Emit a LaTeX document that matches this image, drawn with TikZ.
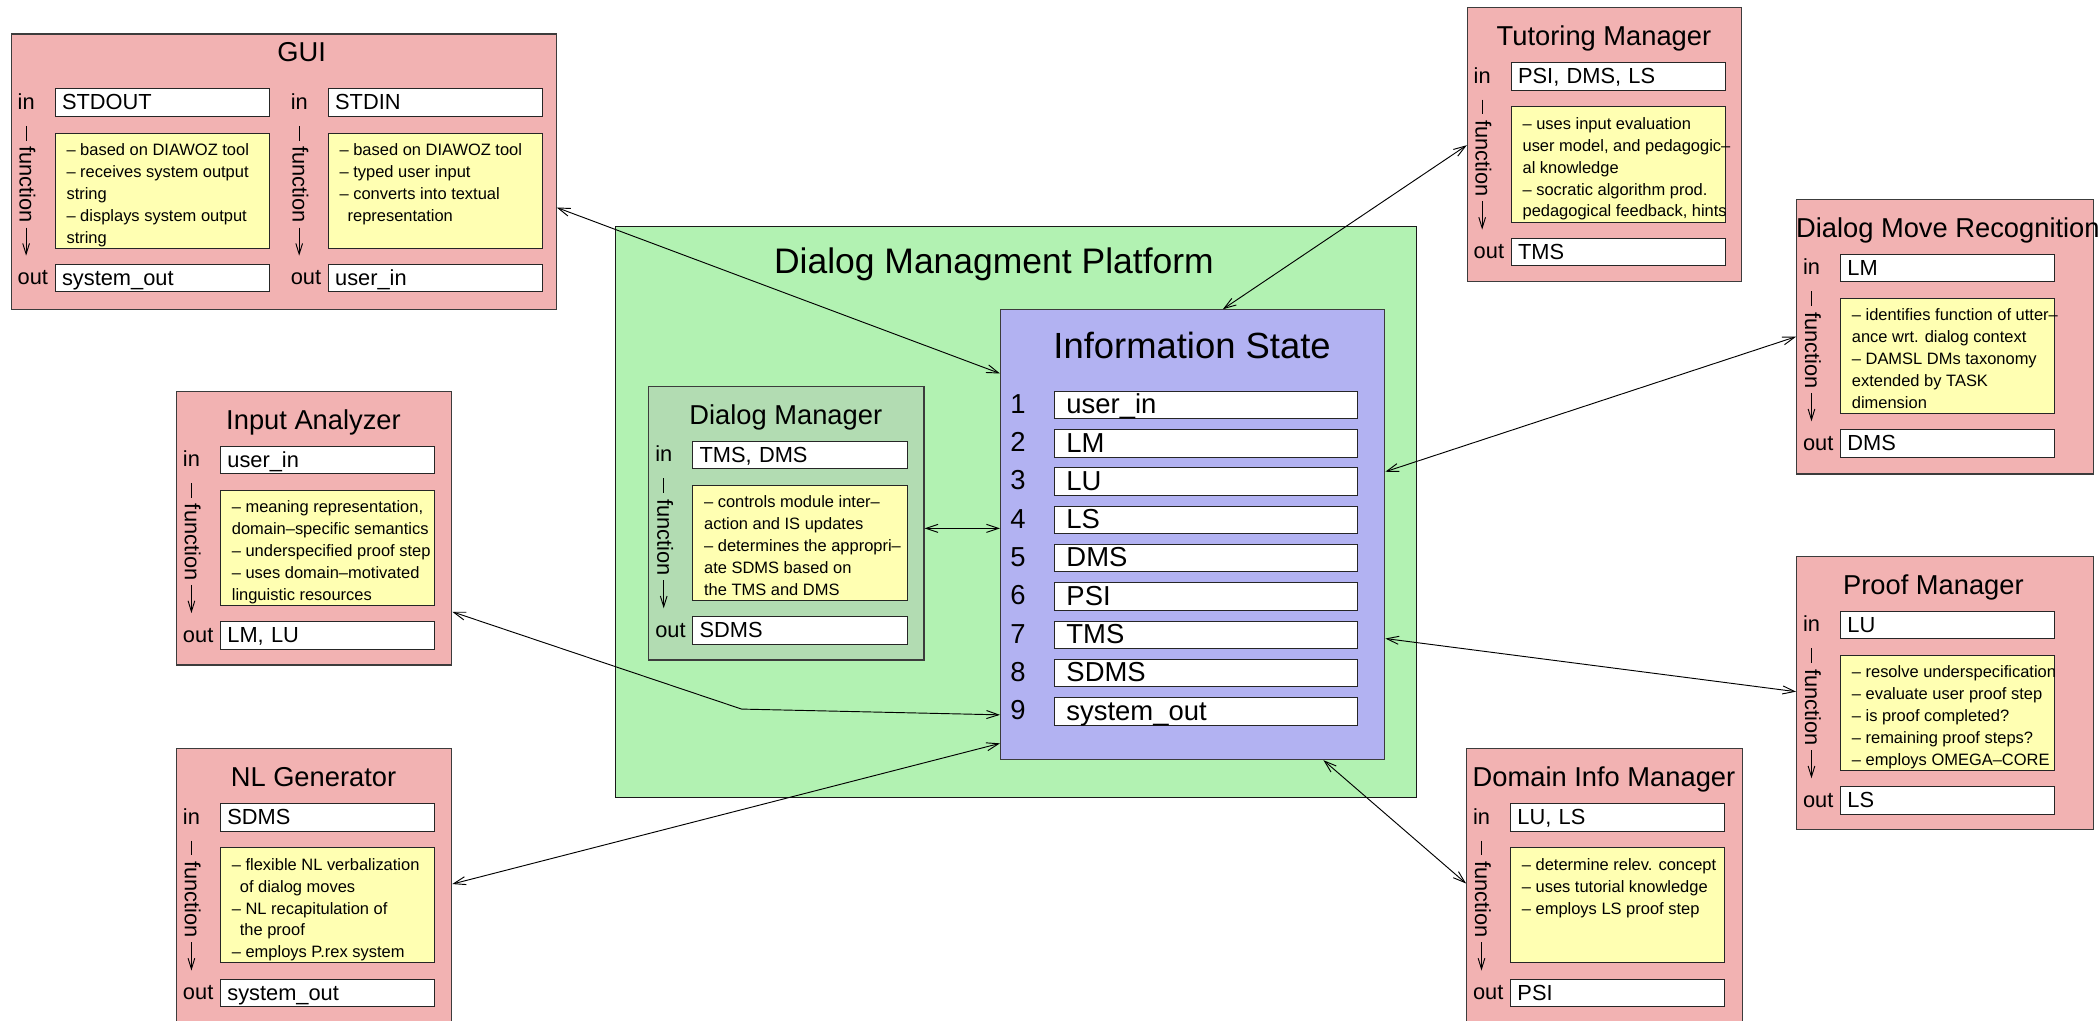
\documentclass[tikz,border=0pt]{standalone}
\usepackage{fontspec}
\setmainfont{Liberation Sans}
\usetikzlibrary{arrows.meta,calc}
\definecolor{pinkbox}{RGB}{242,178,178}
\definecolor{platgreen}{RGB}{178,242,178}
\definecolor{dmgreen}{RGB}{178,220,178}
\definecolor{ispurple}{RGB}{178,178,242}
\definecolor{noteyellow}{RGB}{255,255,178}
\definecolor{edgegray}{RGB}{60,60,60}

\newcommand\mfTitle{\fontsize{20.4}{24}\selectfont}
\newcommand\mfLabel{\fontsize{16.3}{19}\selectfont}
\newcommand\mfNote{\fontsize{12.3}{16.4}\selectfont}
\newcommand\mfIS{\fontsize{20.5}{24}\selectfont}
\newcommand\mfISTitle{\fontsize{27.2}{32}\selectfont}
\newcommand\mfPlat{\fontsize{26.5}{32}\selectfont}

\tikzset{
 modbox/.style={draw=edgegray, line width=0.85pt, fill=pinkbox, anchor=north west, inner sep=0pt},
 inbox/.style={draw=black!85, fill=white, line width=0.7pt, anchor=north west, inner ysep=0pt, inner xsep=5pt, text width=150pt, align=left, text height=15.7pt, text depth=4.8pt, minimum height=20.5pt, font=\mfLabel},
 notebox/.style={draw=black!85, fill=noteyellow, line width=0.7pt, anchor=north west, minimum width=160pt, minimum height=86pt, inner sep=0pt},
 notetext/.style={anchor=north west, inner sep=0pt, align=left, font=\mfNote},
 lbl/.style={anchor=base west, inner sep=0pt, font=\mfLabel},
 ttl/.style={anchor=base, inner sep=0pt, font=\mfTitle},
 isrow/.style={draw=black!85, fill=white, line width=0.7pt, anchor=north west, inner ysep=0pt, inner xsep=8.9pt, text width=208.4pt, align=left, text height=16.8pt, text depth=3.7pt, minimum height=20.5pt, font=\mfIS},
 conn/.style={line width=0.7pt, {Straight Barb[length=9pt,width=6pt]}-{Straight Barb[length=9pt,width=6pt]}},
 fnarrow/.style={line width=0.7pt, -{Straight Barb[length=8pt,width=5pt]}},
}

% frame: [fill] name X Y W H titlex titlebase title
\newcommand\modframe[9][pinkbox]{%
 \node[modbox, fill=#1, minimum width=#5pt, minimum height=#6pt] (#2) at (#3,#4) {};
 \node[ttl] (#2-t) at ({#3+#7},{#4+#8}) {#9};
}
% column: name X Y in out note
\newcommand\modcol[6]{%
 \node[lbl] (#1-il) at ({#2+5},{#3+56.7}) {in};
 \node[inbox] (#1-in) at ({#2+33},{#3+41}) {#4};
 \node[notebox] (#1-nb) at ({#2+33},{#3+74}) {};
 \node[notetext] (#1-nt) at ({#2+41.5},{#3+79.3}) {\strut#6};
 \draw[line width=0.7pt] ({#2+11.5},{#3+69}) -- ({#2+11.5},{#3+80});
 \node[rotate=-90, inner sep=0pt, font=\mfLabel] (#1-fl) at ({#2+12.5},{#3+113}) {function};
 \draw[fnarrow] ({#2+11.5},{#3+145}) -- ({#2+11.5},{#3+166});
 \node[lbl] (#1-ol) at ({#2+5},{#3+187.7}) {out};
 \node[inbox] (#1-out) at ({#2+33},{#3+172}) {#5};
}

\begin{document}
\begin{tikzpicture}[x=1pt,y=-1pt]
\useasboundingbox (0,0) rectangle (1568,762);

% platform
\node[draw=black!90, line width=0.85pt, fill=platgreen, anchor=north west, minimum width=598.5pt, minimum height=426pt, inner sep=0pt] (plat) at (459.5,169) {};
\node[anchor=base, inner sep=0pt, font=\mfPlat] (plat-t) at (742.5,204) {Dialog Managment Platform};

% dialog manager
\modframe[dmgreen]{dm}{484.3}{288.4}{205.5}{204.2}{102.7}{28.6}{Dialog Manager}
\modcol{dm}{484.3}{288.4}{TMS, DMS}{SDMS}{– controls module inter–\\action and IS updates\\– determines the appropri–\\ate SDMS based on\\the TMS and DMS}

% information state
\node[draw=edgegray, line width=0.85pt, fill=ispurple, anchor=north west, minimum width=287pt, minimum height=336pt, inner sep=0pt] (is) at (747,231) {};
\node[anchor=base, inner sep=0pt, font=\mfISTitle] (is-t) at (890.5,267.7) {Information State};
\foreach \k/\txt in {1/user\_in,2/LM,3/LU,4/LS,5/DMS,6/PSI,7/TMS,8/SDMS,9/system\_out}{
 \node[isrow] (is-\k) at (787.4,{292+28.6*(\k-1)}) {\txt};
 \node[anchor=base, inner sep=0pt, font=\mfIS] (is-n\k) at (760.5,{308.8+28.6*(\k-1)}) {\k};
}

% GUI
\modframe{gui}{8}{25}{407}{205.8}{217.3}{21}{GUI}
\modcol{guiL}{8}{25}{STDOUT}{system\_out}{– based on DIAWOZ tool\\– receives system output\\string\\– displays system output\\string}
\modcol{guiR}{212}{25}{STDIN}{user\_in}{– based on DIAWOZ tool\\– typed user input\\– converts into textual\\\hspace*{6pt}representation}

% Tutoring Manager
\modframe{tm}{1095.7}{5.5}{205}{204.5}{102.5}{28.6}{Tutoring Manager}
\modcol{tm}{1095.7}{5.5}{PSI, DMS, LS}{TMS}{– uses input evaluation\\user model, and pedagogic–\\al knowledge\\– socratic algorithm prod.\\pedagogical feedback, hints}

% Dialog Move Recognition
\modframe{dmr}{1341.7}{148.7}{221.7}{205}{113.4}{28.8}{Dialog Move Recognition}
\modcol{dmr}{1341.7}{148.7}{LM}{DMS}{– identifies function of utter–\\ance wrt. dialog context\\– DAMSL DMs taxonomy\\extended by TASK\\dimension}

% Input Analyzer
\modframe{ia}{131.5}{292}{205.5}{204.3}{102.7}{28.6}{Input Analyzer}
\modcol{ia}{131.5}{292}{user\_in}{LM, LU}{– meaning representation,\\domain–specific semantics\\– underspecified proof step\\– uses domain–motivated\\linguistic resources}

% Proof Manager
\modframe{pm}{1341.7}{415.4}{221.7}{204}{102.6}{28.6}{Proof Manager}
\modcol{pm}{1341.7}{415.4}{LU}{LS}{– resolve underspecification\\– evaluate user proof step\\– is proof completed?\\– remaining proof steps?\\– employs OMEGA–CORE}

% NL Generator
\modframe{nl}{131.5}{559}{205.5}{204}{102.7}{28.6}{NL Generator}
\modcol{nl}{131.5}{559}{SDMS}{system\_out}{– flexible NL verbalization\\\hspace*{6pt}of dialog moves\\– NL recapitulation of\\\hspace*{6pt}the proof\\– employs P.rex system}

% Domain Info Manager
\modframe{dim}{1095.2}{559}{205.9}{204}{103}{28.6}{Domain Info Manager}
\modcol{dim}{1095.2}{559}{LU, LS}{PSI}{– determine relev. concept\\– uses tutorial knowledge\\– employs LS proof step}

% connectors
\coordinate (bendIA) at (554,529.7);
\draw[conn] ([yshift=-130pt]gui.north east) -- ([yshift=-48pt]is.north west);
\draw[conn] ([yshift=-103pt]tm.north west) -- ([xshift=166.5pt]is.north west);
\draw[conn] ([yshift=-102.8pt]dmr.north west) -- ([yshift=-121.4pt]is.north east);
\draw[conn] ([yshift=-106.3pt]dm.north east) -- ([yshift=-163.7pt]is.north west);
\draw[conn] ([yshift=-101.3pt]pm.north west) -- ([yshift=-246pt]is.north east);
\draw[conn] ([yshift=-165pt]ia.north east) -- (bendIA) -- ([yshift=-303pt]is.north west);
\draw[conn] ([yshift=-101.4pt]nl.north east) -- ([yshift=-324.3pt]is.north west);
\draw[conn] ([xshift=241.6pt]is.south west) -- ([yshift=-101pt]dim.north west);
\end{tikzpicture}
\end{document}
